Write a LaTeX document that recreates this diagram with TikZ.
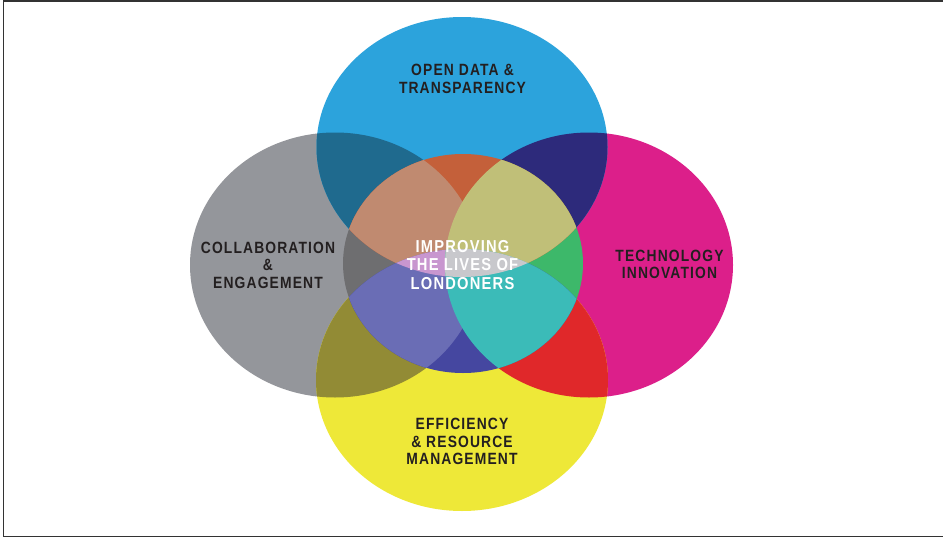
\documentclass[tikz,border=0pt]{standalone}
\usepackage{fontspec}
\setmainfont{Liberation Sans}
\newfontfamily\lblfont{Liberation Sans}[FakeStretch=0.85, LetterSpace=7]
\definecolor{cB}{HTML}{2CA3DC}
\definecolor{cG}{HTML}{94969B}
\definecolor{cM}{HTML}{DC1F8A}
\definecolor{cY}{HTML}{EEE838}
\definecolor{cBG}{HTML}{1F6A8E}
\definecolor{cBM}{HTML}{2D2A7B}
\definecolor{cGY}{HTML}{928B35}
\definecolor{cMY}{HTML}{E0282A}
\definecolor{cOr}{HTML}{C4603A}
\definecolor{cSal}{HTML}{C08A70}
\definecolor{cKha}{HTML}{C0BF78}
\definecolor{cDg}{HTML}{6E6E70}
\definecolor{cGr}{HTML}{3DB86A}
\definecolor{cInd}{HTML}{4547A0}
\definecolor{cSla}{HTML}{6A6DB5}
\definecolor{cTea}{HTML}{3BBBB8}
\definecolor{cPk}{HTML}{C896CF}
\definecolor{cLg}{HTML}{C8C8CC}
\definecolor{txtdark}{HTML}{231F20}
\def\pB{(462,147) ellipse [x radius=145.5pt, y radius=130pt]}
\def\pY{(462,380) ellipse [x radius=146pt, y radius=131pt]}
\def\pG{(335,265) ellipse [x radius=145pt, y radius=132.5pt]}
\def\pM{(589,265) ellipse [x radius=144pt, y radius=132.5pt]}
\def\pC{(463,263.5) ellipse [x radius=120pt, y radius=109.5pt]}
\tikzset{
  lbl/.style={align=center, text=txtdark, inner sep=0pt,
    font=\lblfont\bfseries\fontsize{16.3}{17.5}\selectfont},
  lblw/.style={align=center, text=white, inner sep=0pt,
    font=\lblfont\bfseries\fontsize{17.3}{18.3}\selectfont}
}
\begin{document}
\begin{tikzpicture}[x=1pt,y=-1pt]
\useasboundingbox (0,0) rectangle (943,538);
\fill[white] (0,0) rectangle (943,538);
% border
\draw[line width=1.5pt, color=black!80] (946,0.75) -- (3.5,0.75) -- (3.5,536.5) -- (946,536.5);
% base ellipses
\fill[cG] \pG;
\fill[cM] \pM;
\fill[cB] \pB;
\fill[cY] \pY;
% pairwise overlaps
\begin{scope}
  \clip \pB;
  \fill[cBG] \pG;
  \fill[cBM] \pM;
\end{scope}
\begin{scope}
  \clip \pY;
  \fill[cGY] \pG;
  \fill[cMY] \pM;
\end{scope}
% centre
\begin{scope}
  \clip \pC;
  \fill[cDg] \pG;
  \fill[cGr] \pM;
  \fill[cOr] \pB;
  \fill[cInd] \pY;
  \begin{scope}
    \clip \pG;
    \fill[cSal] \pB;
    \fill[cSla] \pY;
    \begin{scope}
      \clip \pB;
      \fill[cPk] \pY;
    \end{scope}
  \end{scope}
  \begin{scope}
    \clip \pM;
    \fill[cKha] \pB;
    \fill[cTea] \pY;
    \begin{scope}
      \clip \pB;
      \fill[cLg] \pY;
    \end{scope}
  \end{scope}
\end{scope}
% labels
\node[lbl] (top) at (462.5,79) {OPEN DATA \&\\TRANSPARENCY};
\node[lbl] (left) at (268,265) {COLLABORATION\\\&\\ENGAGEMENT};
\node[lbl] (right) at (669.5,264.5) {TECHNOLOGY\\INNOVATION};
\node[lbl] (bottom) at (462,441.5) {EFFICIENCY\\\& RESOURCE\\MANAGEMENT};
\node[lblw] (centre) at (462.5,265) {IMPROVING\\THE LIVES OF\\LONDONERS};
\end{tikzpicture}
\end{document}
